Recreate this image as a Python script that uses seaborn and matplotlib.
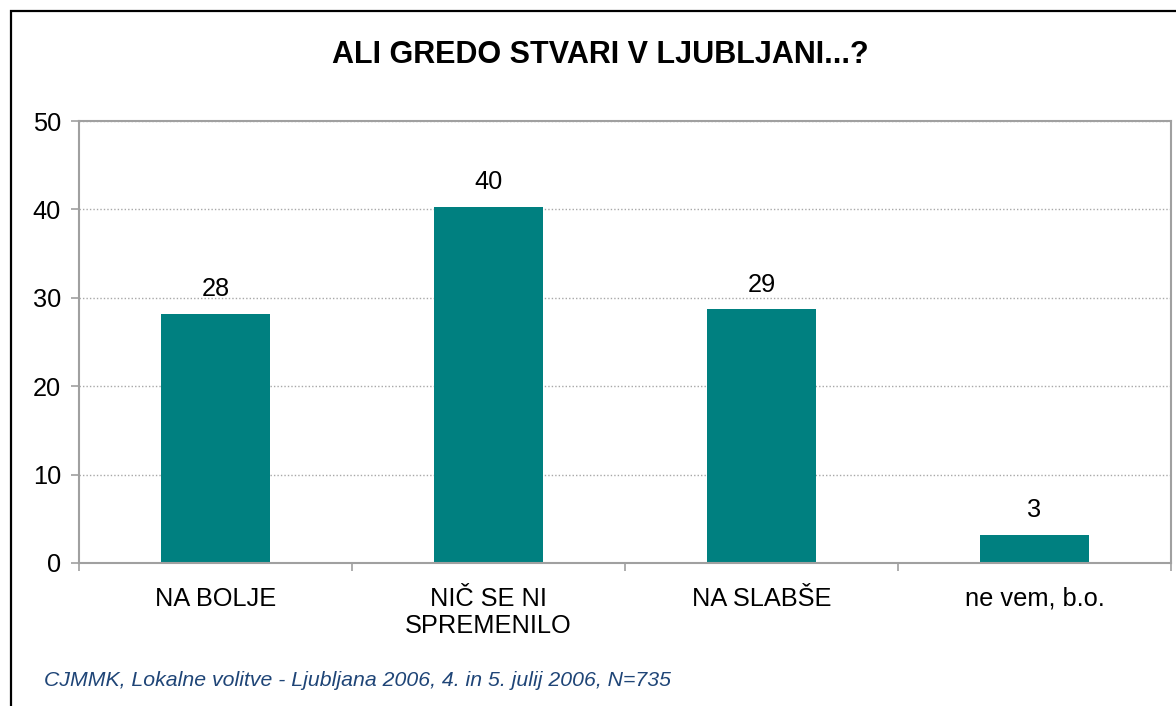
import matplotlib
matplotlib.use("Agg")
import matplotlib.pyplot as plt
import seaborn as sns
import pandas as pd
from matplotlib.patches import Rectangle
from matplotlib.ticker import FixedLocator

categories = ["NA BOLJE", "NIČ SE NI\nSPREMENILO", "NA SLABŠE", "ne vem, b.o."]
values = [28.2, 40.3, 28.7, 3.2]
value_labels = ["28", "40", "29", "3"]
y_ticks = [0, 10, 20, 30, 40, 50]
title = "ALI GREDO STVARI V LJUBLJANI...?"
footer = "CJMMK, Lokalne volitve - Ljubljana 2006, 4. in 5. julij 2006, N=735"

sns.set_theme(style="white")
plt.rcParams["font.family"] = ["Liberation Sans", "DejaVu Sans"]

df = pd.DataFrame({"cat": categories, "val": values})

W, H = 1176, 706
fig = plt.figure(figsize=(W / 100, H / 100), dpi=100)
ax = fig.add_axes([79 / W, 1 - 563 / H, (1171 - 79) / W, (563 - 121) / H])

sns.barplot(data=df, x="cat", y="val", color="#008080", saturation=1,
            width=0.4, ax=ax, edgecolor="none")

ax.set_xlim(-0.5, len(categories) - 0.5)
ax.set_ylim(0, 50)
ax.set_yticks(y_ticks)
ax.set_xlabel("")
ax.set_ylabel("")

for s in ax.spines.values():
    s.set_color("#A0A0A0")
    s.set_linewidth(1.5)
    s.set_visible(True)

ax.yaxis.grid(True, linestyle=(0, (1, 1.5)), color="#A8A8A8", linewidth=1)
ax.set_axisbelow(True)

ax.tick_params(axis="y", which="major", length=6, width=1.2, color="#A0A0A0",
               labelsize=18.3, pad=7, labelcolor="black", left=True)
ax.tick_params(axis="x", which="major", length=0, labelsize=18.3, pad=17,
               labelcolor="black")
for lbl in ax.get_xticklabels():
    lbl.set_linespacing(1.18)
ax.xaxis.set_minor_locator(FixedLocator([i - 0.5 for i in range(len(categories) + 1)]))
ax.tick_params(axis="x", which="minor", length=6, width=1.2, color="#A0A0A0",
               bottom=True)

ax.bar_label(ax.containers[0], labels=value_labels, padding=9, fontsize=18.3,
             color="black")

fig.text(600 / W, 1 - 55 / H, title, ha="center", va="center",
         fontsize=22, fontweight="bold", color="black")
fig.text(44 / W, 1 - 680 / H, footer, ha="left", va="center",
         fontsize=15.3, style="italic", color="#1F4577")

frame = Rectangle((10.5 / W, -0.1), 1.2, 1 - 11 / H + 0.1, transform=fig.transFigure,
                  fill=False, edgecolor="black", linewidth=1.6, clip_on=False)
fig.patches.append(frame)

fig.savefig("out.png", dpi=100)
